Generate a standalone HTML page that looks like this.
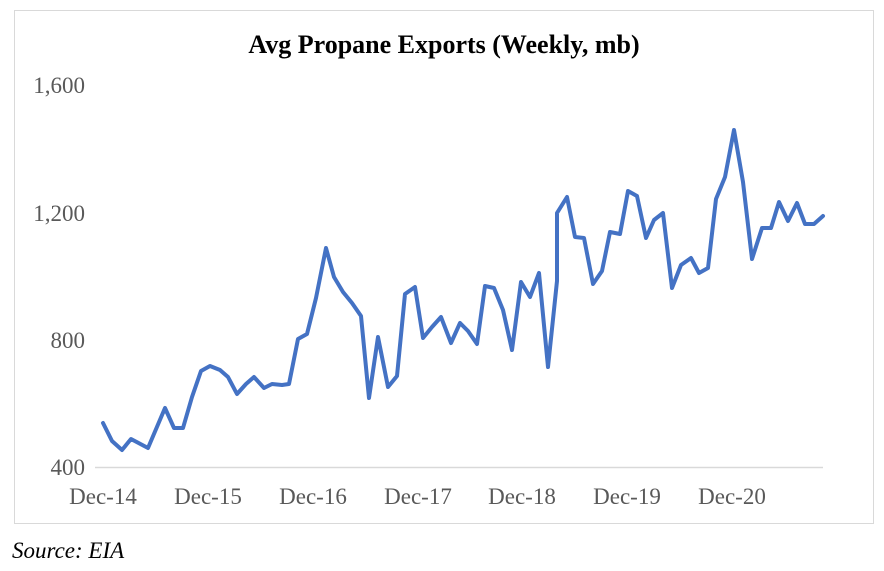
<!DOCTYPE html>
<html><head><meta charset="utf-8"><style>
body{margin:0;background:#fff;width:884px;height:566px;overflow:hidden}
</style></head><body>
<svg width="884" height="566" xmlns="http://www.w3.org/2000/svg" font-family="Liberation Serif, serif">
<rect x="14.5" y="10.5" width="859" height="513" fill="#fff" stroke="#d9d9d9"/>
<text x="444" y="53" text-anchor="middle" font-size="26" font-weight="bold" fill="#000">Avg Propane Exports (Weekly, mb)</text>
<g font-size="23" fill="#595959" text-anchor="end">
<text x="85" y="93">1,600</text>
<text x="85" y="221">1,200</text>
<text x="85" y="348">800</text>
<text x="85" y="475">400</text>
</g>
<line x1="95" y1="467.5" x2="823" y2="467.5" stroke="#d9d9d9" stroke-width="1.5"/>
<g font-size="23" fill="#595959" text-anchor="middle">
<text x="103" y="504">Dec-14</text>
<text x="208" y="504">Dec-15</text>
<text x="313" y="504">Dec-16</text>
<text x="418" y="504">Dec-17</text>
<text x="522" y="504">Dec-18</text>
<text x="627" y="504">Dec-19</text>
<text x="732" y="504">Dec-20</text>
</g>
<polyline fill="none" stroke="#4472c4" stroke-width="4" stroke-linejoin="round" stroke-linecap="round" points="103,423 112,441 122,450 131,439 148,448 165,408 174,428 183,428 192,397 201,371 210,366 220,370 228,377 237,394 246,384 254,377 264,388 272,384 282,385 289,384 298,339 307,334 316,298 326,248 334,277 343,292 352,303 361,316 369,398 378,337 388,387 397,376 405,294 415,287 423,338 432,327 441,317 451,343 460,323 468,331 477,344 485,286 494,288 503,310 512,350 521,282 530,297 539,273 548,367 557,281 557,213 567,197 575,237 584,238 593,284 602,271 610,232 620,234 628,191 637,196 646,238 654,220 663,213 672,288 681,265 691,258 699,273 708,268 716,199 725,177 734,130 743,182 752,259 762,228 771,228 779,202 788,221 797,203 805,224 814,224 823,216"/>
<text x="12" y="558" font-size="23" font-style="italic" fill="#000">Source: EIA</text>
</svg>
</body></html>
